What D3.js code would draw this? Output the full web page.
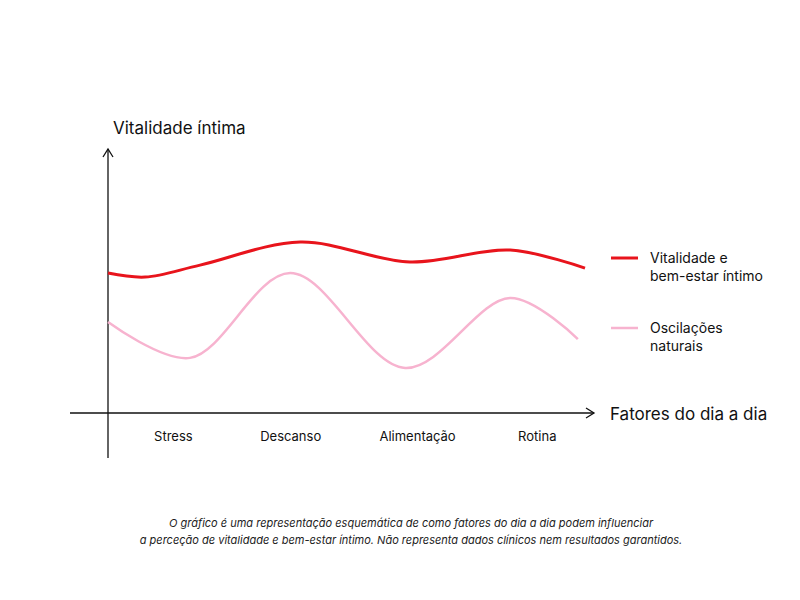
<!DOCTYPE html>
<html><head><meta charset="utf-8">
<script src="https://cdn.jsdelivr.net/npm/d3@7"></script>
<style>body{margin:0;background:#fff}text{font-family:Inter,"Noto Sans",sans-serif}</style>
</head><body><svg id="c" width="800" height="600"></svg>
<script>
const categories = ["Stress","Descanso","Alimentação","Rotina"];
const categoryPos = [1.37,3.83,6.49,9.0];
const vitalX = [0,0.78,1.93,4.03,6.33,8.43,10];
const vitalY = [52.8,51.3,55.8,64.5,57.0,61.5,54.7];
const oscX = [0,1.72,3.82,6.23,8.43,9.85];
const oscY = [34.3,20.8,52.8,17.0,43.4,27.9];
const legendLabels = [["Vitalidade e","bem-estar íntimo"],["Oscilações","naturais"]];
const colors = ["#e8141c","#f7b3cf"];

const svg = d3.select("#c");
const x = d3.scaleLinear().domain([0,10]).range([108,585]);
const y = d3.scaleLinear().domain([0,100]).range([413,148]);

svg.append("line").attr("x1",70).attr("x2",594).attr("y1",413).attr("y2",413).attr("stroke","#111").attr("stroke-width",1.3);
svg.append("path").attr("d","M586,408 L594,413 L586,418").attr("fill","none").attr("stroke","#111").attr("stroke-width",1.3);
svg.append("line").attr("x1",108).attr("x2",108).attr("y1",149).attr("y2",458).attr("stroke","#111").attr("stroke-width",1.3);
svg.append("path").attr("d","M103,157 L108,149 L113,157").attr("fill","none").attr("stroke","#111").attr("stroke-width",1.3);

svg.append("text").attr("x",113).attr("y",134).attr("font-size",17).attr("fill","#111").text("Vitalidade íntima");
svg.append("text").attr("x",610).attr("y",420).attr("font-size",17).attr("fill","#111").text("Fatores do dia a dia");

svg.selectAll(".cat").data(categories).join("text").attr("x",(d,i)=>x(categoryPos[i])).attr("y",441)
 .attr("text-anchor","middle").attr("font-size",13).attr("fill","#111").text(d=>d);

const line = d3.line().x(d=>x(d[0])).y(d=>y(d[1])).curve(d3.curveCatmullRom.alpha(0.5));
svg.append("path").attr("d",line(oscX.map((v,i)=>[v,oscY[i]]))).attr("fill","none").attr("stroke",colors[1]).attr("stroke-width",2.5);
svg.append("path").attr("d",line(vitalX.map((v,i)=>[v,vitalY[i]]))).attr("fill","none").attr("stroke",colors[0]).attr("stroke-width",3);

legendLabels.forEach((l,i)=>{
  const ly = 258 + i*70;
  svg.append("line").attr("x1",611).attr("x2",638).attr("y1",ly).attr("y2",ly).attr("stroke",colors[i]).attr("stroke-width",i?2.5:3);
  l.forEach((t,j)=>svg.append("text").attr("x",650).attr("y",ly+5+j*18).attr("font-size",14).attr("fill","#111").text(t));
});

const cap = ["O gráfico é uma representação esquemática de como fatores do dia a dia podem influenciar",
 "a perceção de vitalidade e bem-estar íntimo. Não representa dados clínicos nem resultados garantidos."];
cap.forEach((t,i)=>svg.append("text").attr("x",411).attr("y",527+i*17).attr("text-anchor","middle")
 .attr("font-size",11).attr("font-style","italic").attr("fill","#222").text(t));
</script></body></html>
